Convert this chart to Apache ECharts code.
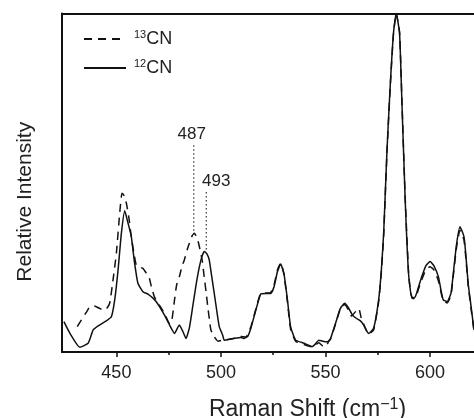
<!DOCTYPE html>
<html><head><meta charset="utf-8">
<script src="https://cdn.jsdelivr.net/npm/echarts@6/dist/echarts.min.js"></script>
<style>html,body{margin:0;padding:0;background:#fff}#c{width:474px;height:418px}</style>
</head><body><div id="c"></div>
<script>
const shift12 = [424.9,427.8,432.5,436.5,438.9,441.3,445.2,447.6,449.2,450.8,452.4,454.0,455.6,457.1,458.7,460.3,462.7,465.1,467.5,469.0,470.6,473.0,475.4,477.8,480.1,481.9,483.3,484.9,486.5,488.1,489.7,491.0,492.1,493.3,494.4,495.5,496.8,498.1,499.2,500.8,501.6,503.8,506.3,509.5,511.1,512.9,514.3,516.7,519.0,521.4,523.8,525.4,527.0,528.6,530.1,531.8,533.3,535.7,539.7,543.7,545.2,546.8,548.6,550.8,552.4,554.8,557.1,559.2,561.0,562.9,564.8,566.7,568.2,569.9,570.6,573.0,575.4,576.7,577.8,579.4,581.0,582.5,583.8,585.4,586.5,588.1,589.7,591.3,592.9,594.3,596.0,597.9,600.0,601.9,604.0,605.2,606.3,608.2,610.0,611.1,612.6,614.3,616.2,617.1,618.2,619.5,621.0];
const int12 = [8.95,5.5,1.4,2.6,6.5,7.7,9.2,10.4,15.4,24.2,35.1,41.7,38.0,34.3,26.3,20.3,17.8,17.1,15.9,14.9,13.4,10.9,8.0,5.5,8.0,5.9,4.0,7.1,13.4,19.8,25.2,28.4,29.7,29.0,27.2,22.7,17.3,11.8,7.5,5.0,3.5,3.7,4.0,4.3,4.0,4.7,7.0,12.4,17.1,17.3,17.3,19.3,23.7,26.0,23.2,15.4,7.5,3.5,2.6,1.6,2.4,3.5,3.2,3.0,4.0,8.5,12.9,14.4,13.0,10.9,9.9,9.2,8.0,6.0,5.5,7.0,15.4,24.2,35.1,59.7,79.4,94.2,100,94.2,74.4,44.9,23.2,15.9,16.3,18.9,22.2,25.4,26.7,25.4,22.2,18.3,15.4,14.9,17.4,23.2,31.6,37.0,34.1,28.7,20.3,13.9,6.5];
const shift13 = [431.3,433.3,435.7,437.3,439.5,441.9,443.7,445.2,446.8,448.4,450.0,451.6,452.7,453.8,454.8,456.0,457.1,458.3,459.5,461.0,462.7,464.3,465.6,466.9,468.2,470.5,473.0,475.4,476.2,477.8,478.8,480.1,481.4,482.5,483.8,484.9,486.2,487.3,488.6,489.7,491.0,492.0,492.9,493.7,494.5,495.2,496.8,498.6,500.8,503.8,506.3,509.5,511.9,514.3,516.7,519.0,521.4,523.8,525.4,527.0,528.6,530.1,531.8,533.3,535.7,539.7,543.7,545.2,546.8,548.6,550.0,551.4,552.4,554.8,557.1,559.2,561.0,562.4,564.3,565.9,567.1,568.6,570.6,573.0,575.4,576.7,577.8,579.4,581.0,582.5,583.8,585.4,586.5,588.1,589.7,590.7,591.9,593.3,594.3,596.0,597.9,600.0,601.9,604.0,605.2,606.3,608.2,610.0,611.1,612.6,614.3,616.2,617.1,618.2,619.5,621.0];
const int13 = [7.5,9.5,11.8,13.4,13.6,12.9,12.4,12.7,14.4,21.3,29.2,41.1,46.9,46.1,43.9,39.6,34.1,29.5,25.7,25.1,24.7,23.3,22.2,18.9,16.3,13.9,11.4,8.5,8.5,15.4,19.8,22.2,25.4,27.2,30.1,32.1,34.3,35.1,33.7,31.1,27.2,22.2,17.7,13.4,9.5,6.5,4.5,3.2,3.5,3.8,4.1,4.6,4.4,7.4,12.7,17.3,17.4,17.6,19.8,24.2,26.3,23.0,14.8,6.8,3.2,2.2,1.5,2.1,2.7,1.8,1.5,3.0,3.8,8.3,12.7,14.0,12.4,10.6,11.9,12.9,10.0,7.7,5.3,6.5,14.8,23.6,34.3,59.1,78.9,94.0,100,94.5,75.0,45.5,23.6,17.4,15.7,16.2,18.3,21.3,24.2,25.2,24.2,21.0,17.7,15.1,14.5,16.8,22.5,30.7,36.0,33.1,27.8,19.8,13.3,6.2];
const majorTicks = [450, 500, 550, 600];
const minorTicks = [475, 525, 575];
const peakMarks = [487, 493];
const peakMarkTop = [61.1, 47.3];
const peakMarkBottom = [35.1, 29.6];
const seriesNames = ['13CN', '12CN'];

const FONT = "'Liberation Sans', Arial, sans-serif";
const INK = '#111';
const xMin = 424, xMax = 621;

function zip(xs, ys) { const n = Math.min(xs.length, ys.length); const out = []; for (let i = 0; i < n; i++) out.push([xs[i], ys[i]]); return out; }

const markSeries = peakMarks.map((p, i) => ({
  type: 'line', xAxisIndex: 0, yAxisIndex: 0, silent: true,
  symbol: 'circle', symbolSize: 2, showSymbol: true,
  itemStyle: { color: 'rgba(0,0,0,0)' },
  lineStyle: { color: '#333', width: 1.2, type: [1.5, 2.5] },
  label: { show: false },
  data: [
    { value: [p, peakMarkTop[i]], label: { show: true, position: 'top', distance: 1, offset: i === 0 ? [-2, 0] : [10, 0], formatter: String(p), fontSize: 17, fontFamily: FONT, color: '#222' } },
    { value: [p, peakMarkBottom[i]] }
  ]
}));

const chart = echarts.init(document.getElementById('c'), null, { renderer: 'canvas' });
chart.setOption({
  animation: false,
  backgroundColor: '#fff',
  grid: { left: 62, right: 0, top: 13.5, bottom: 66, containLabel: false, outerBoundsMode: 'none' },
  legend: {
    orient: 'vertical', left: 83, top: 29, padding: 0, itemWidth: 42, itemHeight: 2, itemGap: 10,
    data: seriesNames,
    itemStyle: { opacity: 0 },
    formatter: name => '{sup|' + name.slice(0, 2) + '}{n|' + name.slice(2) + '}',
    textStyle: {
      fontFamily: FONT, color: '#222',
      rich: {
        sup: { fontSize: 11, lineHeight: 11, verticalAlign: 'top', fontFamily: FONT, color: '#222', padding: [0, 0, 0, 3] },
        n: { fontSize: 18, lineHeight: 20, fontFamily: FONT, color: '#222' }
      }
    }
  },
  xAxis: [
    {
      type: 'value', min: xMin, max: xMax, position: 'bottom',
      axisLine: { show: true, lineStyle: { color: INK, width: 2 } },
      axisTick: { show: true, customValues: majorTicks, length: 5, lineStyle: { color: INK, width: 1.5 } },
      axisLabel: { show: true, customValues: majorTicks, margin: 12, fontSize: 18, fontFamily: FONT, color: '#222' },
      splitLine: { show: false },
      name: '{a|Raman Shift (cm}{s|−1}{a|)}',
      nameLocation: 'middle', nameGap: 45,
      nameTextStyle: {
        fontFamily: FONT, color: '#222', padding: [0, 0, 0, 79],
        rich: {
          a: { fontSize: 23, lineHeight: 26, fontFamily: FONT, color: '#222' },
          s: { fontSize: 16, lineHeight: 16, verticalAlign: 'top', fontFamily: FONT, color: '#222' }
        }
      }
    },
    {
      type: 'value', min: xMin, max: xMax, position: 'bottom',
      axisLine: { show: false },
      axisTick: { show: true, customValues: minorTicks, length: 3, lineStyle: { color: INK, width: 1.5 } },
      axisLabel: { show: false },
      splitLine: { show: false }
    },
    {
      type: 'value', min: xMin, max: xMax, position: 'top',
      axisLine: { show: true, lineStyle: { color: INK, width: 2 } },
      axisTick: { show: false }, axisLabel: { show: false }, splitLine: { show: false }
    }
  ],
  yAxis: {
    type: 'value', min: 0, max: 100,
    axisLine: { show: true, lineStyle: { color: INK, width: 2 } },
    axisTick: { show: false }, axisLabel: { show: false }, splitLine: { show: false },
    name: 'Relative Intensity', nameLocation: 'middle', nameGap: 26, nameRotate: 90,
    nameTextStyle: { fontSize: 21, fontFamily: FONT, color: '#222', padding: [0, 38, 0, 0] }
  },
  series: [
    {
      name: seriesNames[0], type: 'line', xAxisIndex: 0, data: zip(shift13, int13),
      symbol: 'none', smooth: 0.15, lineStyle: { color: INK, width: 1.5, type: [8, 6] }, itemStyle: { color: INK }, z: 3
    },
    {
      name: seriesNames[1], type: 'line', xAxisIndex: 0, data: zip(shift12, int12),
      symbol: 'none', smooth: 0.15, lineStyle: { color: INK, width: 1.5 }, itemStyle: { color: INK }, z: 4
    },
    ...markSeries
  ]
});
</script>
</body></html>
